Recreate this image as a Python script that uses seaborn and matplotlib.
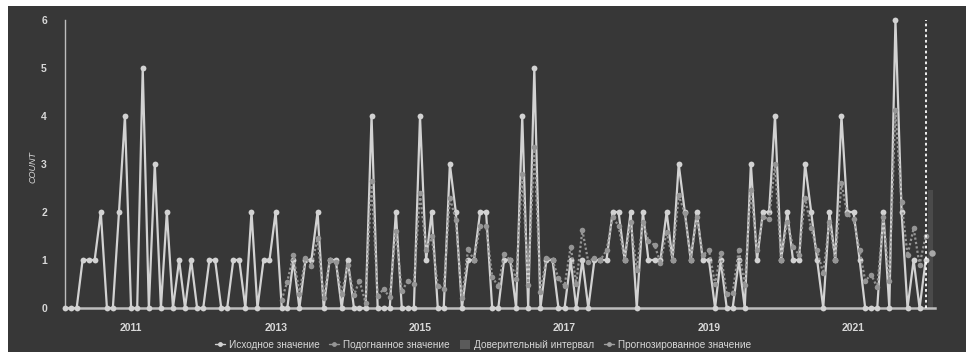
import matplotlib
matplotlib.use("Agg")
import matplotlib.pyplot as plt
import numpy as np
import pandas as pd
import seaborn as sns
from matplotlib.lines import Line2D
from matplotlib.patches import Patch, Rectangle

# Monthly counts, starting February 2010
start_month = "2010-02-01"
observed = [
    0, 0, 0, 1, 1, 1, 2, 0, 0, 2, 4, 0, 0, 5, 0, 3, 0, 2,
    0, 1, 0, 1, 0, 0, 1, 1, 0, 0, 1, 1, 0, 2, 0, 1, 1, 2,
    0, 0, 1, 0, 1, 1, 2, 0, 1, 1, 0, 1, 0, 0, 0, 4, 0, 0,
    0, 2, 0, 0, 0, 4, 1, 2, 0, 0, 3, 2, 0, 1, 1, 2, 2, 0,
    0, 1, 1, 0, 4, 0, 5, 0, 1, 1, 0, 0, 1, 0, 1, 0, 1, 1,
    1, 2, 2, 1, 2, 0, 2, 1, 1, 1, 2, 1, 3, 2, 1, 2, 1, 1,
    0, 1, 0, 0, 1, 0, 3, 1, 2, 2, 4, 1, 2, 1, 1, 3, 2, 1,
    0, 2, 1, 4, 2, 2, 1, 0, 0, 0, 2, 0, 6, 2, 0, 1, 0, 1,
]

# Model fit, available from February 2013 onwards
fitted = [
    0.17, 0.55, 1.10, 0.30, 1.05, 0.88, 1.45, 0.20, 1.00, 0.95, 0.30, 0.90,
    0.27, 0.57, 0.10, 2.65, 0.24, 0.40, 0.22, 1.60, 0.35, 0.57, 0.50, 2.40,
    1.20, 1.50, 0.46, 0.40, 2.30, 1.83, 0.20, 1.22, 1.00, 1.71, 1.71, 0.65,
    0.45, 1.12, 1.00, 0.60, 2.80, 0.48, 3.35, 0.34, 1.05, 1.00, 0.62, 0.46,
    1.28, 0.51, 1.62, 0.96, 1.05, 1.00, 1.20, 1.90, 1.71, 1.00, 1.80, 0.80,
    1.80, 1.40, 1.31, 0.94, 1.59, 1.00, 2.35, 1.97, 1.00, 1.90, 1.10, 1.21,
    0.50, 1.15, 0.29, 0.32, 1.21, 0.48, 2.46, 1.20, 1.90, 1.85, 3.00, 1.00,
    1.80, 1.28, 1.10, 2.30, 1.66, 1.20, 0.72, 1.80, 1.00, 2.60, 1.95, 1.85,
    1.20, 0.57, 0.69, 0.43, 1.89, 0.57, 4.12, 2.20, 1.10, 1.66, 0.90, 1.50,
]

# One-step forecast with its confidence interval
forecast = [1.14]
ci_lower = [0.0]
ci_upper = [2.45]

year_ticks = [2011, 2013, 2015, 2017, 2019, 2021]
y_ticks = [0, 1, 2, 3, 4, 5, 6]
legend_labels = ["Исходное значение", "Подогнанное значение",
                 "Доверительный интервал", "Прогнозированное значение"]
y_label = "COUNT"

dates = pd.date_range(start_month, periods=len(observed), freq="MS")
fit_dates = dates[len(observed) - len(fitted):]
fc_dates = pd.date_range(dates[-1] + pd.offsets.MonthBegin(1),
                         periods=len(forecast), freq="MS")

df_obs = pd.DataFrame({"date": dates, "value": observed})
df_fit = pd.DataFrame({"date": fit_dates, "value": fitted})
df_fc = pd.DataFrame({"date": fc_dates, "value": forecast})

BG = "#373737"
C_OBS = "#d2d2d2"
C_FIT = "#959595"
C_TXT = "#d8d8d8"
C_AXIS = "#bdbdbd"

sns.set_theme(style="dark")
plt.rcParams["font.family"] = ["Liberation Sans", "DejaVu Sans"]

fig = plt.figure(figsize=(9.66, 3.52), dpi=100, facecolor="white")
fig.patches.append(Rectangle((8 / 966, 0), 1, 1 - 6 / 352, transform=fig.transFigure,
                             facecolor=BG, edgecolor="none", zorder=-10))
ax = fig.add_axes([65 / 966, 44 / 352, 870 / 966, 288 / 352])
ax.set_facecolor(BG)

# confidence band around the forecast
ci_x = [dates[-1] + pd.Timedelta(days=12), fc_dates[-1] + pd.Timedelta(days=6)]
ax.fill_between(ci_x, [ci_lower[0]] * 2, [ci_upper[0]] * 2,
                color="#5a5a5a", alpha=0.55, linewidth=0, zorder=1)

sns.lineplot(data=df_obs, x="date", y="value", ax=ax, color=C_OBS,
             linewidth=1.6, marker="o", markersize=4.2, markeredgewidth=0,
             clip_on=False, zorder=3)
sns.lineplot(data=df_fit, x="date", y="value", ax=ax, color=C_FIT,
             linewidth=1.6, linestyle=(0, (1, 1)), marker="o", markersize=4,
             markeredgewidth=0, clip_on=False, zorder=4)
sns.scatterplot(data=df_fc, x="date", y="value", ax=ax, color="#a8a8a8",
                s=22, linewidth=0, clip_on=False, zorder=5)

# boundary between history and forecast
ax.plot([dates[-1], dates[-1]], [0, 6], color="white", linewidth=1.3,
        linestyle=(0, (1.5, 1.5)), zorder=6, clip_on=False)

ax.set_xlim(dates[0], fc_dates[-1] + pd.Timedelta(days=16))
ax.set_ylim(0, 6)
ax.set_xticks([pd.Timestamp(f"{y}-01-01") for y in year_ticks])
ax.set_xticklabels([str(y) for y in year_ticks])
ax.set_yticks(y_ticks)
ax.set_yticklabels([str(v) for v in y_ticks])
ax.tick_params(axis="x", colors=C_TXT, labelsize=7.5, length=2.5, width=0.8,
               pad=8, direction="out")
ax.tick_params(axis="y", colors=C_TXT, labelsize=7.5, length=0, pad=13)
for lbl in ax.get_xticklabels() + ax.get_yticklabels():
    lbl.set_fontweight("bold")
    lbl.set_color(C_TXT)
ax.set_xlabel("")
ax.set_ylabel(y_label, color=C_TXT, fontsize=6.5, fontstyle="italic")
ax.yaxis.set_label_coords(-27 / 870, 0.49)
ax.grid(False)

for side in ("top", "right"):
    ax.spines[side].set_visible(False)
ax.spines["left"].set_color(C_AXIS)
ax.spines["left"].set_linewidth(1.0)
ax.spines["bottom"].set_color(C_AXIS)
ax.spines["bottom"].set_linewidth(1.8)
ax.spines["left"].set_zorder(2)

handles = [
    Line2D([], [], color=C_OBS, linewidth=1, marker="o", markersize=3.5,
           markeredgewidth=0),
    Line2D([], [], color=C_FIT, linewidth=1, marker="o", markersize=3.5,
           markeredgewidth=0),
    Patch(facecolor="#5a5a5a", edgecolor="none"),
    Line2D([], [], color="#a0a0a0", linewidth=1, marker="o", markersize=3.5,
           markeredgewidth=0),
]
leg = fig.legend(handles, legend_labels, loc="lower center", ncol=4,
                 bbox_to_anchor=(0.5, -0.02), frameon=False, fontsize=7.2,
                 handlelength=1.0, handletextpad=0.4, columnspacing=1.0,
                 handleheight=1.0)
for t in leg.get_texts():
    t.set_color(C_TXT)

fig.savefig("out.png", dpi=100, facecolor=fig.get_facecolor())
